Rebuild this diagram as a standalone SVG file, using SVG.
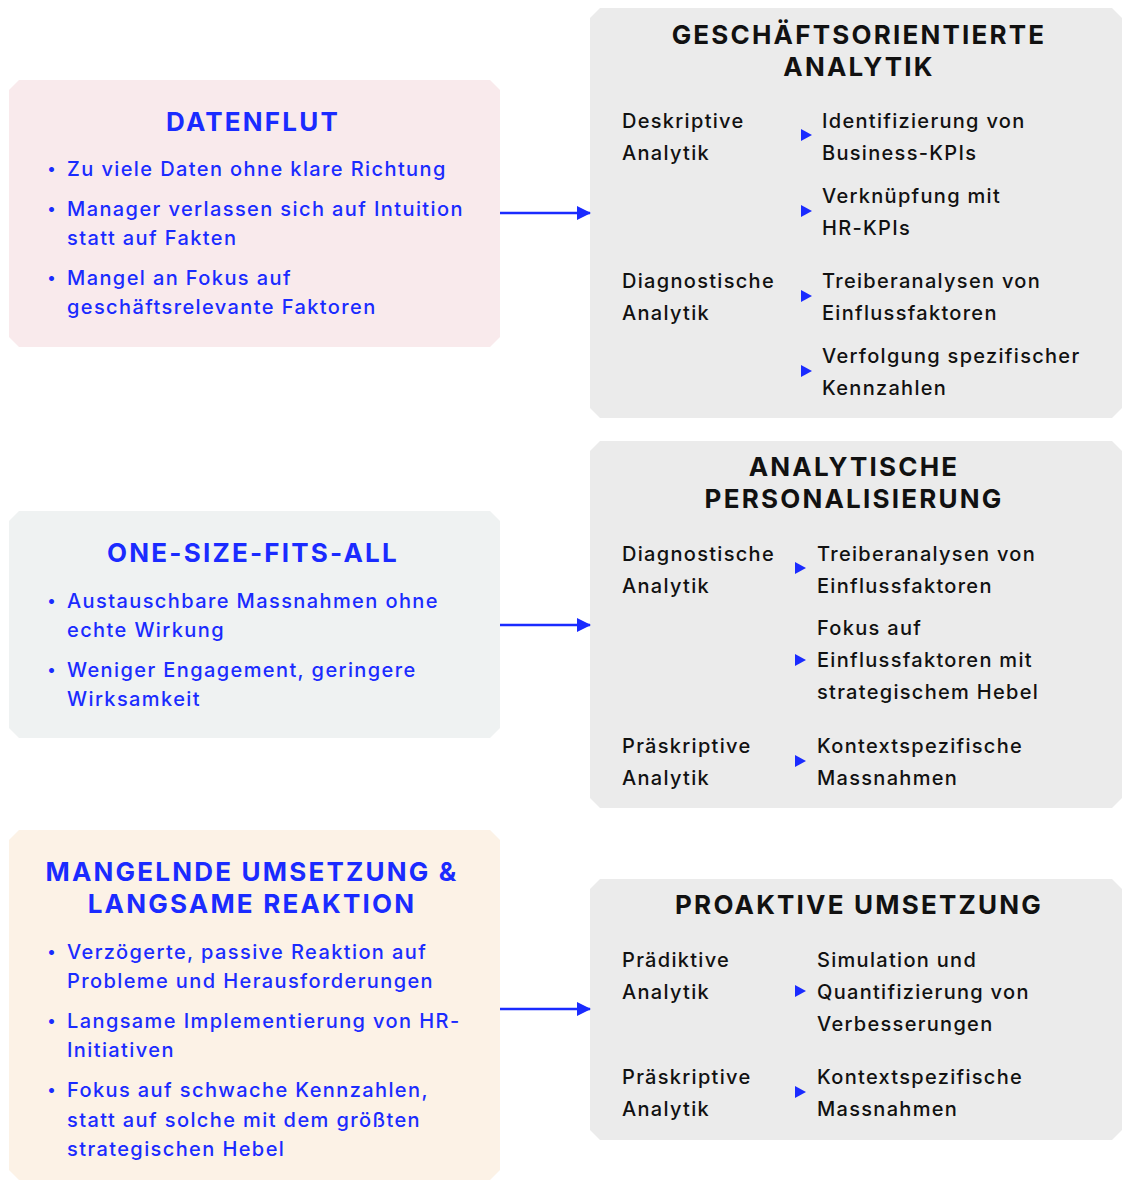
<svg xmlns="http://www.w3.org/2000/svg" width="1122" height="1180" viewBox="0 0 1122 1180">
<defs>
<style>
.h{font-family:Inter,"Noto Sans",sans-serif;font-weight:700;font-size:26px;letter-spacing:2.2px;text-anchor:middle}
.hb{fill:#1a2bff}
.hk{fill:#111}
.b{font-family:Inter,"Noto Sans",sans-serif;font-weight:500;font-size:20px;letter-spacing:1.4px;fill:#1a2bff}
.d{font-family:Inter,"Noto Sans",sans-serif;font-size:16px;fill:#1a2bff}
.t{font-family:Inter,"Noto Sans",sans-serif;font-weight:500;font-size:20px;letter-spacing:1.3px;fill:#111}
.tri{fill:#1a2bff}
.conn{stroke:#1a2bff;stroke-width:2.5;fill:none}
</style>
<marker id="ah" markerWidth="14" markerHeight="14" refX="13" refY="7" orient="auto" markerUnits="userSpaceOnUse">
<path d="M0,0 L14,7 L0,14 Z" fill="#1a2bff"/>
</marker>
</defs>
<rect width="1122" height="1180" fill="#fff"/>

<g id="datenflut">
<path d="M19,80 H490 L500,90 V337 L490,347 H19 L9,337 V90 Z" fill="#f9eaec"/>
<text class="h hb" x="253" y="131">DATENFLUT</text>
<text class="d" x="47" y="174">•</text><text class="b" x="67" y="176">Zu viele Daten ohne klare Richtung</text>
<text class="d" x="47" y="214">•</text><text class="b" x="67" y="216">Manager verlassen sich auf Intuition</text>
<text class="b" x="67" y="245">statt auf Fakten</text>
<text class="d" x="47" y="283">•</text><text class="b" x="67" y="285">Mangel an Fokus auf</text>
<text class="b" x="67" y="314">geschäftsrelevante Faktoren</text>
</g>

<g id="one-size">
<path d="M19,511 H490 L500,521 V728 L490,738 H19 L9,728 V521 Z" fill="#eff2f2"/>
<text class="h hb" x="253" y="562">ONE-SIZE-FITS-ALL</text>
<text class="d" x="47" y="606">•</text><text class="b" x="67" y="608">Austauschbare Massnahmen ohne</text>
<text class="b" x="67" y="637">echte Wirkung</text>
<text class="d" x="47" y="675">•</text><text class="b" x="67" y="677">Weniger Engagement, geringere</text>
<text class="b" x="67" y="706">Wirksamkeit</text>
</g>

<g id="mangelnde">
<path d="M19,830 H490 L500,840 V1170 L490,1180 H19 L9,1170 V840 Z" fill="#fcf2e6"/>
<text class="h hb" x="252" y="881">MANGELNDE UMSETZUNG &amp;</text>
<text class="h hb" x="252" y="913">LANGSAME REAKTION</text>
<text class="d" x="47" y="957">•</text><text class="b" x="67" y="959">Verzögerte, passive Reaktion auf</text>
<text class="b" x="67" y="988">Probleme und Herausforderungen</text>
<text class="d" x="47" y="1026">•</text><text class="b" x="67" y="1028">Langsame Implementierung von HR-</text>
<text class="b" x="67" y="1057">Initiativen</text>
<text class="d" x="47" y="1095">•</text><text class="b" x="67" y="1097">Fokus auf schwache Kennzahlen,</text>
<text class="b" x="67" y="1127">statt auf solche mit dem größten</text>
<text class="b" x="67" y="1156">strategischen Hebel</text>
</g>

<g id="geschaeft">
<path d="M600,8 H1112 L1122,18 V408 L1112,418 H600 L590,408 V18 Z" fill="#ebebeb"/>
<text class="h hk" x="859" y="44">GESCHÄFTSORIENTIERTE</text>
<text class="h hk" x="859" y="76">ANALYTIK</text>
<text class="t" x="622" y="128">Deskriptive</text>
<text class="t" x="622" y="160">Analytik</text>
<path class="tri" d="M801,129 L812,135 L801,141 Z"/>
<text class="t" x="822" y="128">Identifizierung von</text>
<text class="t" x="822" y="160">Business-KPIs</text>
<path class="tri" d="M801,205 L812,211 L801,217 Z"/>
<text class="t" x="822" y="203">Verknüpfung mit</text>
<text class="t" x="822" y="235">HR-KPIs</text>
<text class="t" x="622" y="288">Diagnostische</text>
<text class="t" x="622" y="320">Analytik</text>
<path class="tri" d="M801,290 L812,296 L801,302 Z"/>
<text class="t" x="822" y="288">Treiberanalysen von</text>
<text class="t" x="822" y="320">Einflussfaktoren</text>
<path class="tri" d="M801,365 L812,371 L801,377 Z"/>
<text class="t" x="822" y="363">Verfolgung spezifischer</text>
<text class="t" x="822" y="395">Kennzahlen</text>
</g>

<g id="personalisierung">
<path d="M600,441 H1112 L1122,451 V798 L1112,808 H600 L590,798 V451 Z" fill="#ebebeb"/>
<text class="h hk" x="854" y="476">ANALYTISCHE</text>
<text class="h hk" x="854" y="508">PERSONALISIERUNG</text>
<text class="t" x="622" y="561">Diagnostische</text>
<text class="t" x="622" y="593">Analytik</text>
<path class="tri" d="M795,562 L806,568 L795,574 Z"/>
<text class="t" x="817" y="561">Treiberanalysen von</text>
<text class="t" x="817" y="593">Einflussfaktoren</text>
<path class="tri" d="M795,654 L806,660 L795,666 Z"/>
<text class="t" x="817" y="635">Fokus auf</text>
<text class="t" x="817" y="667">Einflussfaktoren mit</text>
<text class="t" x="817" y="699">strategischem Hebel</text>
<text class="t" x="622" y="753">Präskriptive</text>
<text class="t" x="622" y="785">Analytik</text>
<path class="tri" d="M795,755 L806,761 L795,767 Z"/>
<text class="t" x="817" y="753">Kontextspezifische</text>
<text class="t" x="817" y="785">Massnahmen</text>
</g>

<g id="proaktiv">
<path d="M600,879 H1112 L1122,889 V1130 L1112,1140 H600 L590,1130 V889 Z" fill="#ebebeb"/>
<text class="h hk" x="859" y="914">PROAKTIVE UMSETZUNG</text>
<text class="t" x="622" y="967">Prädiktive</text>
<text class="t" x="622" y="999">Analytik</text>
<path class="tri" d="M795,985 L806,991 L795,997 Z"/>
<text class="t" x="817" y="967">Simulation und</text>
<text class="t" x="817" y="999">Quantifizierung von</text>
<text class="t" x="817" y="1031">Verbesserungen</text>
<text class="t" x="622" y="1084">Präskriptive</text>
<text class="t" x="622" y="1116">Analytik</text>
<path class="tri" d="M795,1086 L806,1092 L795,1098 Z"/>
<text class="t" x="817" y="1084">Kontextspezifische</text>
<text class="t" x="817" y="1116">Massnahmen</text>
</g>

<g id="connectors">
<line class="conn" x1="500" y1="213" x2="590" y2="213" marker-end="url(#ah)"/>
<line class="conn" x1="500" y1="625" x2="590" y2="625" marker-end="url(#ah)"/>
<line class="conn" x1="500" y1="1009" x2="590" y2="1009" marker-end="url(#ah)"/>
</g>
</svg>
